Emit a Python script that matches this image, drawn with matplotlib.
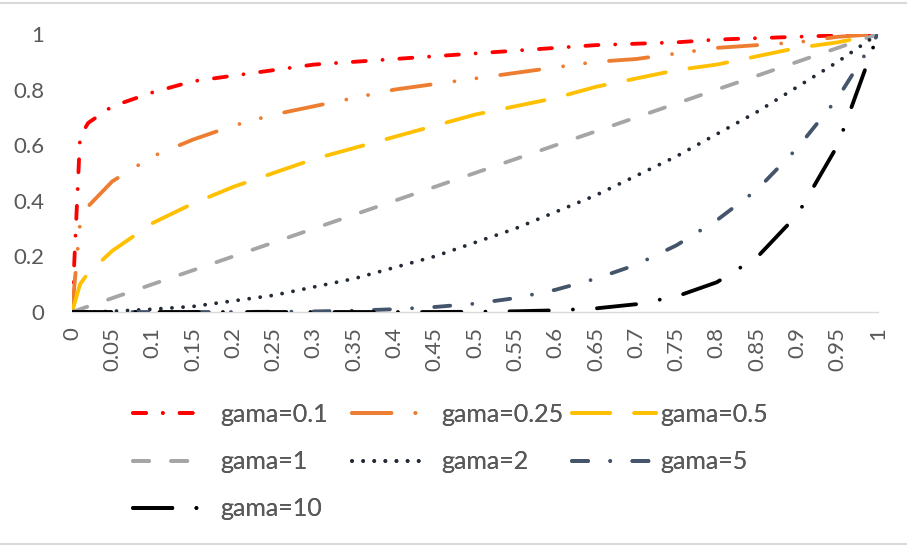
import matplotlib.pyplot as plt
from matplotlib.lines import Line2D

plt.rcParams['font.family'] = ['Lato', 'DejaVu Sans']

x = [0, 0.01, 0.02, 0.05, 0.1, 0.15, 0.2, 0.25, 0.3, 0.35, 0.4, 0.45, 0.5,
     0.55, 0.6, 0.65, 0.7, 0.75, 0.8, 0.85, 0.9, 0.95, 1]

g_01 = [0, 0.63, 0.68, 0.74, 0.79, 0.83, 0.85, 0.87, 0.89, 0.90, 0.91, 0.92, 0.93,
        0.94, 0.95, 0.96, 0.965, 0.97, 0.98, 0.985, 0.99, 0.995, 1]
g_025 = [0, 0.32, 0.38, 0.47, 0.56, 0.62, 0.67, 0.71, 0.74, 0.77, 0.80, 0.82, 0.84,
         0.86, 0.88, 0.90, 0.91, 0.93, 0.95, 0.96, 0.97, 0.99, 1]
g_05 = [0, 0.10, 0.14, 0.22, 0.32, 0.39, 0.45, 0.50, 0.55, 0.59, 0.63, 0.67, 0.71,
        0.74, 0.77, 0.81, 0.84, 0.87, 0.89, 0.92, 0.95, 0.97, 1]
g_1 = [0, 0.01, 0.02, 0.05, 0.1, 0.15, 0.2, 0.25, 0.3, 0.35, 0.4, 0.45, 0.5,
       0.55, 0.6, 0.65, 0.7, 0.75, 0.8, 0.85, 0.9, 0.95, 1]
g_2 = [0, 0, 0, 0.0025, 0.01, 0.02, 0.04, 0.06, 0.09, 0.12, 0.16, 0.2, 0.25,
       0.3, 0.36, 0.42, 0.49, 0.56, 0.64, 0.72, 0.81, 0.9, 1]
g_5 = [0, 0, 0, 0, 0, 0, 0, 0.001, 0.002, 0.005, 0.01, 0.018, 0.03,
       0.05, 0.08, 0.12, 0.17, 0.24, 0.33, 0.44, 0.59, 0.77, 1]
g_10 = [0, 0, 0, 0, 0, 0, 0, 0, 0, 0, 0, 0, 0.001,
        0.0025, 0.006, 0.013, 0.028, 0.056, 0.107, 0.197, 0.35, 0.6, 1]

xticks = [i / 20 for i in range(21)]
xlabels = ['0', '0.05', '0.1', '0.15', '0.2', '0.25', '0.3', '0.35', '0.4', '0.45', '0.5',
           '0.55', '0.6', '0.65', '0.7', '0.75', '0.8', '0.85', '0.9', '0.95', '1']
ylabels = ['0', '0.2', '0.4', '0.6', '0.8', '1']

d = 0.01  # dot
series = [
    ('gama=0.1', g_01, '#FF0000', (0, (3.4, 4.4, d, 4.4))),
    ('gama=0.25', g_025, '#ED7D31', (0, (10.3, 6.3, d, 5.8, d, 6.3))),
    ('gama=0.5', g_05, '#FFC000', (0, (10, 6.3))),
    ('gama=1', g_1, '#A5A5A5', (0, (4.2, 5.8))),
    ('gama=2', g_2, '#222A35', (0, (d, 2.9))),
    ('gama=5', g_5, '#44546A', (0, (4.2, 5.8, d, 5.8))),
    ('gama=10', g_10, '#000000', (0, (10.3, 6.3, d, 6.3))),
]

fig = plt.figure(figsize=(9.07, 5.46), dpi=100)
ax = fig.add_axes([72 / 907, 1 - 312 / 546, 806 / 907, 278 / 546])

handles = {}
for name, y, col, ls in series:
    ln, = ax.plot(x, y, color=col, lw=2.75, linestyle=ls, dash_capstyle='round',
                  solid_capstyle='round', label=name)
    handles[name] = ln

ax.set_xlim(0, 1)
ax.set_ylim(0, 1)
ax.set_xticks(xticks)
ax.set_xticklabels(xlabels, rotation=90, va='top', ha='center')
ax.set_yticks([0, 0.2, 0.4, 0.6, 0.8, 1])
ax.set_yticklabels(ylabels)
ax.tick_params(axis='both', length=0, labelsize=16, labelcolor='#595959')
ax.tick_params(axis='y', pad=20)
ax.tick_params(axis='x', pad=11)
for s in ['top', 'right', 'left']:
    ax.spines[s].set_visible(False)
ax.spines['bottom'].set_color('#D9D9D9')
ax.spines['bottom'].set_linewidth(1)
ax.spines['bottom'].set_zorder(0)

# legend: three columns below the plot (x start px, handle px, text pad px)
fs = 18
em = fs * 100 / 72
cols = [(['gama=0.1', 'gama=1', 'gama=10'], 133, 65, 22),
        (['gama=0.25', 'gama=2'], 352, 75, 14),
        (['gama=0.5', 'gama=5'], 572, 84, 4)]
for names, xpix, hl, tp in cols:
    leg = fig.legend([handles[n] for n in names], names, loc='upper left',
                     bbox_to_anchor=(xpix / 907, 1 - 403 / 546), frameon=False,
                     fontsize=fs, handlelength=hl / em, handletextpad=tp / em,
                     labelspacing=0.97, borderpad=0, borderaxespad=0,
                     labelcolor='#595959')
    fig.add_artist(leg)

fig.add_artist(Line2D([0, 1], [1 - 3 / 546, 1 - 3 / 546], color='#D9D9D9', lw=1.5))
fig.add_artist(Line2D([0, 1], [2 / 546, 2 / 546], color='#D9D9D9', lw=1.5))

fig.savefig('out.png', dpi=100)
